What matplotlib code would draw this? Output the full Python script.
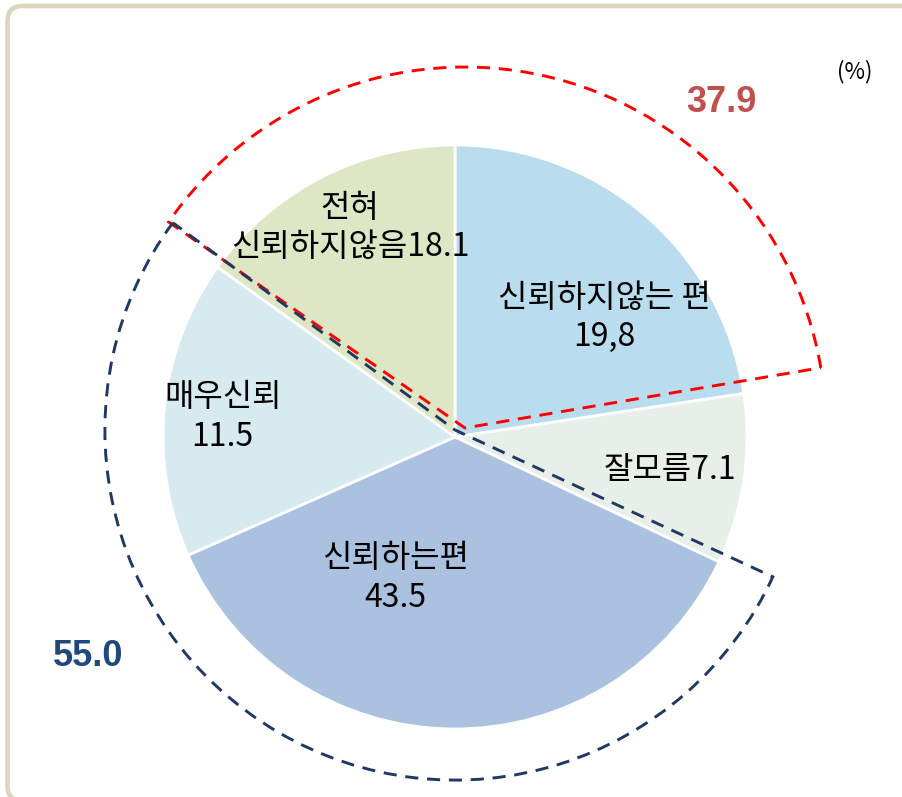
import matplotlib.pyplot as plt
from matplotlib.patches import Wedge, FancyBboxPatch
from matplotlib.transforms import IdentityTransform

# slices, clockwise from 12 o'clock
labels = ['신뢰하지않는 편\n19,8', '잘모름7.1', '신뢰하는편\n43.5', '매우신뢰\n11.5', '전혀\n신뢰하지않음18.1']
values = [19.8, 7.1, 43.5, 11.5, 18.1]
# the slices as drawn in the source picture (they don't follow the labels exactly)
drawn_shares = [22.6, 9.4, 36.3, 16.5, 15.1]
colors = ['#b9ddee', '#e7efe8', '#abc1e0', '#d6eaef', '#dde7c5']
group_labels = ['37.9', '55.0']

KR = ['Noto Sans CJK KR', 'DejaVu Sans']

W, H = 903, 797
fig = plt.figure(figsize=(W / 100, H / 100), dpi=100)
ax = fig.add_axes([0, 0, 1, 1])

# 1 data unit = pie radius = 292 px, pie centre at pixel (455, 437)
S = 292.0
cx, cy = 455, 437

ax.pie(drawn_shares, colors=colors, startangle=90, counterclock=False, radius=1,
       wedgeprops=dict(edgecolor='white', linewidth=2))
ax.set_xlim(-cx / S, (W - cx) / S)
ax.set_ylim(-(H - cy) / S, cy / S)
ax.set_aspect('equal')
ax.axis('off')

# slice labels (hand placed like the original)
label_pos = [(0.51, 0.409), (0.736, -0.113), (-0.205, -0.483), (-0.795, 0.068), (-0.36, 0.718)]
for text, (x, y) in zip(labels, label_pos):
    ax.text(x, y, text, ha='center', va='center', fontsize=23,
            family=KR, linespacing=1.3, color='black')

# dashed group outlines
red = Wedge((0.034, 0.031), 1.236, 9.6, 145.2, fill=False, edgecolor='#ff0000',
            linewidth=2.1, linestyle=(0, (4.5, 3)), zorder=5)
blue = Wedge((0.0, 0.024), 1.199, 143.7, 335.2, fill=False, edgecolor='#1f3864',
             linewidth=2.1, linestyle=(0, (4.5, 3)), zorder=5)
ax.add_patch(red)
ax.add_patch(blue)

ax.text(0.914, 1.144, group_labels[0], ha='center', va='center', fontsize=26,
        family='Liberation Sans', fontweight='bold', color='#c0504d')
ax.text(-1.257, -0.75, group_labels[1], ha='center', va='center', fontsize=26,
        family='Liberation Sans', fontweight='bold', color='#1f497d')
ax.text(1.37, 1.25, '(%)', ha='center', va='center', fontsize=16,
        family=KR, color='black')

# beige rounded frame
frame = FancyBboxPatch((7.5, -4), 1000, H - 6 + 4,
                       boxstyle='round,pad=0,rounding_size=15',
                       transform=IdentityTransform(), fill=False,
                       edgecolor='#ddd6bc', linewidth=3.3, zorder=10)
fig.patches.append(frame)

fig.savefig('out.png', dpi=100)
